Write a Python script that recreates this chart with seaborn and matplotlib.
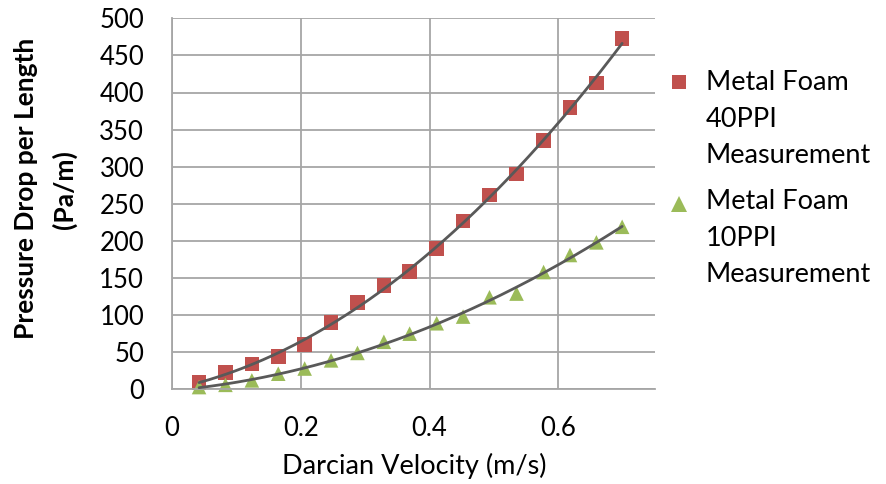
import numpy as np
import pandas as pd
import matplotlib
matplotlib.use("Agg")
import matplotlib.pyplot as plt
from matplotlib.lines import Line2D
import seaborn as sns

# Data
velocity = [0.042, 0.083, 0.124, 0.165, 0.206, 0.247, 0.288, 0.329, 0.369,
            0.411, 0.452, 0.493, 0.535, 0.577, 0.618, 0.659, 0.699]
dp_40ppi = [9, 23, 34, 44, 60, 90, 117, 140, 159,
            190, 227, 262, 290, 335, 380, 413, 473]
dp_10ppi = [3, 6, 12, 21, 28, 39, 49, 64, 75,
            89, 98, 124, 129, 158, 181, 198, 219]
series_labels = ["Metal Foam\n40PPI\nMeasurement", "Metal Foam\n10PPI\nMeasurement"]
x_ticks = [0, 0.2, 0.4, 0.6]
x_tick_labels = ["0", "0.2", "0.4", "0.6"]
y_ticks = list(range(0, 501, 50))
x_title = "Darcian Velocity (m/s)"
y_title = ["Pressure Drop per Length", "(Pa/m)"]

red = "#C0504D"
green = "#9BBB59"
trend_color = "#595959"
grid_color = "#A6A6A6"

sns.set_theme(style="white")
plt.rcParams["font.family"] = ["Lato", "DejaVu Sans"]

df = pd.DataFrame({
    "v": velocity * 2,
    "dp": dp_40ppi + dp_10ppi,
    "series": [series_labels[0]] * len(velocity) + [series_labels[1]] * len(velocity),
})

fig = plt.figure(figsize=(8.87, 4.84), dpi=100)
ax = fig.add_axes([172 / 887, 1 - 389.3 / 484, (655 - 172) / 887, (389.3 - 18.3) / 484])

# trend lines (2nd-order polynomial fits, like the spreadsheet trendlines)
xs = np.linspace(velocity[0], velocity[-1], 200)
for ys in (dp_40ppi, dp_10ppi):
    coef = np.polyfit(velocity, ys, 2)
    ax.plot(xs, np.polyval(coef, xs), color=trend_color, lw=2.0, zorder=3)

sns.scatterplot(data=df, x="v", y="dp", hue="series", style="series",
                markers={series_labels[0]: "s", series_labels[1]: "^"},
                palette={series_labels[0]: red, series_labels[1]: green},
                s=110, linewidth=0, ax=ax, legend=False, zorder=2, clip_on=False)

ax.set_xlim(0, 0.75)
ax.set_ylim(0, 500)
ax.set_xticks(x_ticks)
ax.set_xticklabels(x_tick_labels)
ax.set_yticks(y_ticks)
ax.grid(True, color=grid_color, lw=1.3)
ax.set_axisbelow(True)
for s in ("top", "right"):
    ax.spines[s].set_visible(False)
for s in ("left", "bottom"):
    ax.spines[s].set_color(grid_color)
    ax.spines[s].set_linewidth(1.3)
ax.tick_params(axis="x", length=0, pad=19, labelsize=18.5, colors="black")
ax.tick_params(axis="y", length=0, pad=20, labelsize=18.5, colors="black")

ax.set_xlabel("")
ax.set_ylabel("")
fig.text(414 / 887, 1 - 466 / 484, x_title, ha="center", va="center",
         fontsize=19.5, color="black")
fig.text(26 / 887, 1 - 188 / 484, y_title[0], ha="center", va="center",
         rotation=90, fontsize=19, fontweight="bold", color="black")
fig.text(64 / 887, 1 - 190 / 484, y_title[1], ha="center", va="center",
         rotation=90, fontsize=19, fontweight="bold", color="black")

# legend (manual, markers aligned to the first line of each entry)
legend_items = [(series_labels[0], "s", red, 82, 90), (series_labels[1], "^", green, 204, 209)]
for label, marker, color, ymark, ybase in legend_items:
    fig.add_artist(Line2D([679 / 887], [1 - ymark / 484], transform=fig.transFigure,
                          marker=marker, color=color, markersize=10 if marker == "s" else 11.5,
                          linestyle="none", markeredgewidth=0))
    for i, line in enumerate(label.split("\n")):
        fig.text(706 / 887, 1 - (ybase + i * 36.7) / 484, line, ha="left", va="baseline",
                 fontsize=19.5, color="black")

fig.savefig("out.png", dpi=100)
